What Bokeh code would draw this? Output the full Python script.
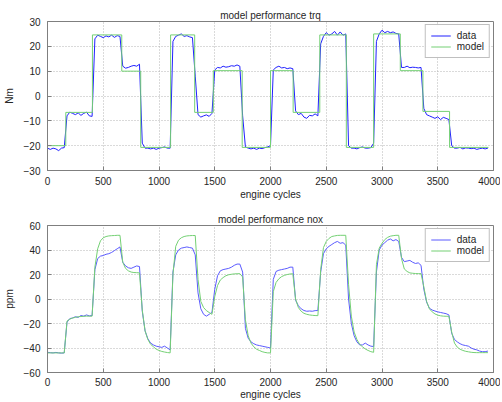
from bokeh.plotting import figure
from bokeh.layouts import column
from bokeh.models import Range1d, SingleIntervalTicker, Legend, LegendItem
from bokeh.embed import file_html
from bokeh.resources import INLINE

step = 25
trq_data = [
    -21, -21.5, -21, -21.3, -22, -21, -20.8, -8, -6.5, -7,
    -7.5, -6.8, -7.8, -7, -6.5, -8, -8.2, 23, 24.5, 24,
    23.5, 24.2, 23.8, 24.5, 23.6, 24.3, 24, 12, 11.2, 11.5,
    12, 12.3, 12, 12.8, -19, -21, -21, -21.3, -21, -21.5,
    -21, -20.8, -20.5, -21, -21, 22, 24, 24.5, 25, 24,
    24.3, 23.8, 23.5, 8, -7.5, -8.5, -8, -7.6, -8.2, -7,
    10.5, 11.5, 11.3, 12, 11.6, 11.8, 12.2, 12, 12.5, 12,
    -8, -20.5, -21, -21.3, -21, -21.5, -21, -21.2, -20.8, -20.5,
    -20, 10.5, 11.5, 12, 11.3, 11.5, 11, 11.3, 11, -6,
    -7.5, -7, -8.5, -9, -7.8, -8, -7.2, -8, 21, 24,
    25.5, 24.5, 25, 26, 24.5, 25.8, 24.5, 25, -20, -21,
    -21, -21.3, -20.8, -20.5, -21, -21, -20.8, -19, 22, 25,
    26.5, 25.5, 26, 25.5, 25.8, 25.2, 25, 11.5, 11.5, 12,
    11.4, 11.6, 11.5, 11.3, 11.5, -5, -7.5, -8, -8.5, -9,
    -8.4, -9.5, -8.6, -9, -9.5, -20, -21, -21, -20.7, -21.3,
    -20.9, -21, -21.2, -21, -21.5, -21.2, -21, -21.3, -21,
]
trq_model_breaks = [0, 164, 403, 666, 836, 1104, 1320, 1487, 1746, 2000,
                    2203, 2442, 2680, 2925, 3164, 3367, 3606, 3955]
trq_model_levels = [-20, -6.6, 24.6, 10, -20.7, 24.6, -6.6, 10.2, -20.7, 10.2,
                    -6.6, 24.6, -20.7, 25, 10.2, -6.2, -20.7]

nox_data = [
    -43.5, -43.8, -44, -43.6, -44, -44.2, -44, -19, -16, -15.5,
    -14.5, -15, -13.5, -14, -13, -13.8, -13.5, 24, 33, 35,
    35.5, 36.5, 37, 38, 39.5, 41, 42.5, 30, 27, 25.5,
    25, 26, 27, 26.5, -10, -26, -32.5, -36, -37.5, -38.5,
    -39, -39.5, -38.5, -40, -41.5, 22, 36, 40, 41.5, 42,
    42.5, 42, 41.5, 36, 5, -8, -12.5, -14, -12.5, -11,
    8, 19, 23, 24, 24.5, 25, 26, 27.5, 28.5, 28.5,
    22, -24, -32, -35, -36.5, -37.5, -38, -38.5, -39, -39.5,
    -40, 16, 22.5, 23.5, 24, 24.5, 25, 26, 26, -1,
    -5.5, -8, -9.4, -10, -9.8, -10, -9.5, -9.4, 22, 37,
    41, 43, 44.5, 46, 47, 45.5, 46, 44, 0, -20,
    -30, -35, -37.5, -37.5, -36, -37.5, -38.5, -38.8, 22, 40,
    44, 46, 48, 49, 47.5, 48.5, 47, 34, 30.5, 31,
    31.5, 30, 29, 29.5, 27.5, 8, -2.5, -7.5, -9, -9.8,
    -10.5, -11, -11.5, -12, -13, -28, -33, -35, -36.5, -37.5,
    -38, -38.5, -40, -41, -41.5, -42.5, -43, -43, -42.5,
]
nox_model = [
    -44, -44, -44, -44, -44, -44, -44, -18, -16.5, -15.5,
    -15, -14.5, -14.3, -14.1, -14, -14, -14, 26, 41, 47.5,
    50, 51, 51.5, 51.7, 51.8, 52, 52, 30, 25, 23,
    22, 21.6, 21.5, 21.3, -9, -26, -33, -37, -39, -41,
    -42, -42.8, -43.3, -43.7, -44, 20, 43, 48, 50, 51,
    51.5, 51.7, 51.8, 51.8, 16, -2, -7, -9.5, -11, -12.5,
    2, 11, 15.5, 17.5, 19, 19.8, 20.2, 20.5, 20.6, 20.7,
    18, -17, -30, -36, -39, -41, -42, -43, -43.6, -44,
    -44, 6, 13.5, 16.5, 18.3, 19.3, 20, 20.4, 20.6, 0,
    -7, -10, -11.7, -12.5, -13, -13.3, -13.5, -13.6, 24, 42,
    47, 49.5, 51, 51.5, 51.9, 52, 52, 52, 12, -14,
    -27, -33, -37, -39, -40.8, -42, -43, -43.5, 28, 41.5,
    45.5, 48.5, 50.3, 51.3, 51.7, 52, 52, 33, 24.5, 22.5,
    21.3, 21, 20.8, 20.7, 20.7, 10, -2, -8, -10.5, -12.2,
    -13.2, -13.7, -14, -14.1, -14.1, -27, -36, -39.3, -41, -42,
    -42.7, -43.1, -43.5, -43.7, -43.8, -43.8, -43.8, -43.8, -43.8,
]
cycles = [i * step for i in range(len(trq_data))]

FONT = "Liberation Sans"
TXT = "#262626"
BLUE_T = "#2020ff"
BLUE_N = "#5a5aff"
GREEN = "#74d074"


def make_fig(title, ylab, yr, ytick, height, mb_top, mb_bottom, xstand, xlstand):
    p = figure(width=500, height=height, output_backend="svg", toolbar_location=None,
               x_range=Range1d(0, 4000), y_range=Range1d(*yr),
               min_border_left=47, min_border_right=7,
               min_border_top=mb_top, min_border_bottom=mb_bottom,
               background_fill_color="white", border_fill_color="white")
    p.title.text = title
    p.title.align = "center"
    p.title.text_font = FONT
    p.title.text_font_size = "10px"
    p.title.text_font_style = "normal"
    p.title.text_color = TXT
    p.title.standoff = 1
    p.xaxis.ticker = SingleIntervalTicker(interval=500)
    p.yaxis.ticker = SingleIntervalTicker(interval=ytick)
    p.xaxis.axis_label = "engine cycles"
    p.yaxis.axis_label = ylab
    for ax in (p.xaxis[0], p.yaxis[0]):
        ax.axis_label_text_font = FONT
        ax.axis_label_text_font_size = "10px"
        ax.axis_label_text_font_style = "normal"
        ax.axis_label_text_color = TXT
        ax.axis_label_standoff = 1
        ax.major_label_text_font = FONT
        ax.major_label_text_font_size = "10px"
        ax.major_label_text_color = TXT
        ax.major_label_standoff = 3
        ax.major_tick_in = 4
        ax.major_tick_out = 0
        ax.major_tick_line_color = "#7f7f7f"
        ax.minor_tick_line_color = None
        ax.axis_line_color = "#7f7f7f"
    p.xaxis[0].major_label_standoff = xstand
    p.xaxis[0].axis_label_standoff = xlstand
    p.yaxis[0].axis_label_standoff = 6
    p.outline_line_color = "#7f7f7f"
    p.grid.grid_line_color = "#b4b4b4"
    p.grid.grid_line_dash = "1 2"
    return p


def add_legend(p, r_data, r_model):
    leg = Legend(items=[LegendItem(label="data", renderers=[r_data]),
                        LegendItem(label="model", renderers=[r_model])],
                 location="top_right")
    leg.margin = 3
    leg.padding = 5
    leg.spacing = 0
    leg.label_standoff = 6
    leg.glyph_width = 20
    leg.glyph_height = 11
    leg.label_height = 11
    leg.label_text_font = FONT
    leg.label_text_font_size = "10px"
    leg.label_text_color = TXT
    leg.border_line_color = "#7f7f7f"
    leg.background_fill_color = "white"
    p.add_layout(leg)


p1 = make_fig("model performance trq", "Nm", (-30, 30), 10, 205, 21, 35, 2, 1)
r1 = p1.line(cycles, trq_data, line_color=BLUE_T, line_width=1)
r2 = p1.step(trq_model_breaks, trq_model_levels + [trq_model_levels[-1]],
             mode="after", line_color=GREEN, line_width=1)
add_legend(p1, r1, r2)

p2 = make_fig("model performance nox", "ppm", (-60, 60), 20, 197, 20, 24, 1, 0)
r3 = p2.line(cycles, nox_data, line_color=BLUE_N, line_width=1)
r4 = p2.line(cycles, nox_model, line_color=GREEN, line_width=1)
add_legend(p2, r3, r4)

layout = column(p1, p2, spacing=0)
open("out.html", "w").write(file_html(layout, INLINE))
